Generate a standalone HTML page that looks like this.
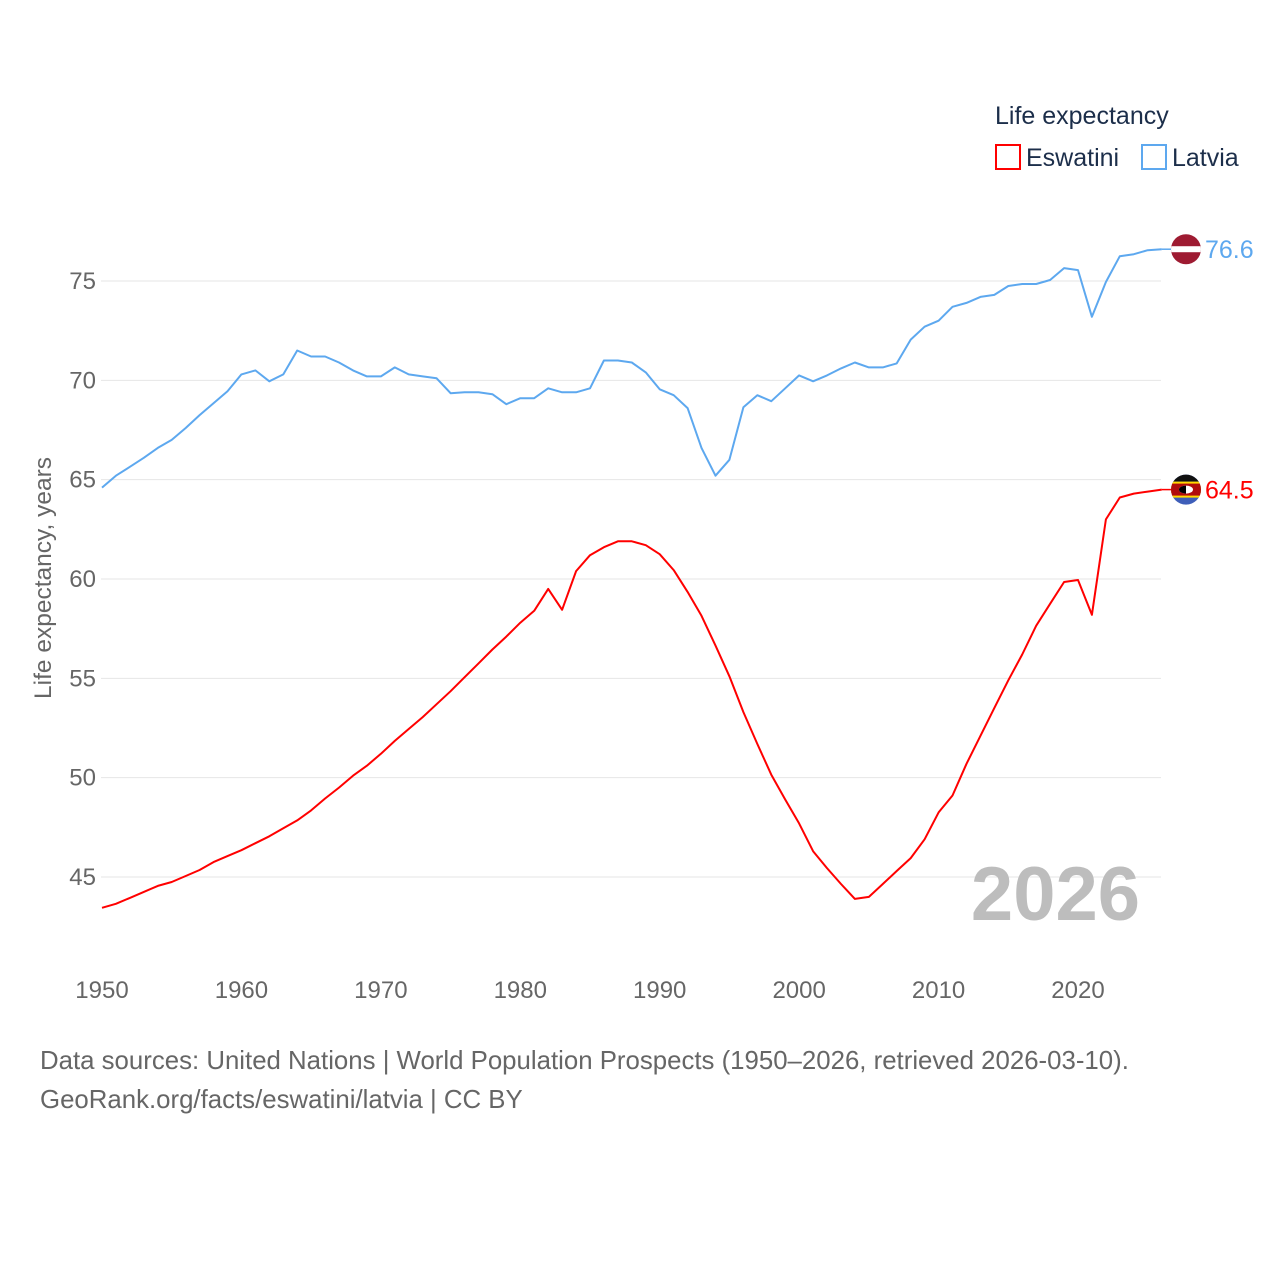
<!DOCTYPE html>
<html><head><meta charset="utf-8"><style>
html,body{margin:0;padding:0;background:#fff;}
svg{display:block;font-family:"Liberation Sans",sans-serif;}
</style></head><body>
<svg id="chart" width="1280" height="1280" viewBox="0 0 1280 1280">
<g id="grid"></g>
<g id="yticks"></g>
<g id="xticks"></g>
<text x="51" y="578" transform="rotate(-90 51 578)" text-anchor="middle" font-size="24.5" fill="#666">Life expectancy, years</text>
<text x="1140" y="920" text-anchor="end" font-size="76" font-weight="bold" fill="#bdbdbd">2026</text>
<g id="series"></g>
<g>
<text x="995" y="124" font-size="25" fill="#1c2e4a">Life expectancy</text>
<g>
<rect x="996" y="145" width="24" height="24" fill="none" stroke="#ff0000" stroke-width="2"/>
<text x="1026" y="166" font-size="25" fill="#1c2e4a">Eswatini</text></g>
<g>
<rect x="1142" y="145" width="24" height="24" fill="none" stroke="#5da8ef" stroke-width="2"/>
<text x="1172" y="166" font-size="25" fill="#1c2e4a">Latvia</text></g>
</g>
<text x="40" y="1069" font-size="25.8" fill="#666">Data sources: United Nations | World Population Prospects (1950–2026, retrieved 2026-03-10).</text>
<text x="40" y="1108" font-size="25.8" fill="#666">GeoRank.org/facts/eswatini/latvia | CC BY</text>
</svg>
<script>
const years = [];
for (let y = 1950; y <= 2026; y++) years.push(y);
const latvia = [64.6,65.2,65.65,66.1,66.6,67.0,67.6,68.25,68.85,69.45,70.3,70.5,69.95,70.3,71.5,71.2,71.2,70.9,70.5,70.2,70.2,70.65,70.3,70.2,70.1,69.35,69.4,69.4,69.3,68.8,69.1,69.1,69.6,69.4,69.4,69.6,71.0,71.0,70.9,70.4,69.55,69.25,68.6,66.6,65.2,66.0,68.65,69.25,68.95,69.6,70.25,69.95,70.25,70.6,70.9,70.65,70.65,70.85,72.05,72.7,73.0,73.7,73.9,74.2,74.3,74.75,74.85,74.85,75.05,75.65,75.55,73.2,74.95,76.25,76.35,76.55,76.6];
const eswatini = [43.45,43.65,43.95,44.25,44.55,44.75,45.05,45.35,45.75,46.05,46.35,46.7,47.05,47.45,47.85,48.35,48.95,49.5,50.1,50.6,51.2,51.85,52.45,53.05,53.7,54.35,55.05,55.75,56.45,57.1,57.8,58.4,59.5,58.45,60.4,61.2,61.6,61.9,61.9,61.7,61.25,60.45,59.35,58.15,56.65,55.1,53.3,51.7,50.15,48.9,47.7,46.3,45.45,44.65,43.9,44.0,44.65,45.3,45.95,46.9,48.25,49.1,50.7,52.1,53.5,54.9,56.2,57.65,58.75,59.85,59.95,58.2,63.0,64.1,64.3,64.4,64.5];
const yTicks = [45,50,55,60,65,70,75];
const xTicks = [1950,1960,1970,1980,1990,2000,2010,2020];

const NS = "http://www.w3.org/2000/svg";
const X = yr => 102 + (yr - 1950) * (976 / 70);
const Y = v => 281 + (75 - v) * (596 / 30);
function mk(tag, attrs, parent) {
  const e = document.createElementNS(NS, tag);
  for (const k in attrs) e.setAttribute(k, attrs[k]);
  parent.appendChild(e);
  return e;
}
const grid = document.getElementById('grid');
const yt = document.getElementById('yticks');
const xt = document.getElementById('xticks');
const ser = document.getElementById('series');
yTicks.forEach(v => {
  const l = mk('line', {x1: 101, x2: 1161, y1: Y(v), y2: Y(v), stroke: '#e6e6e6', 'stroke-width': 1}, grid);
  
  
  const t = mk('text', {x: 96, y: Y(v) + 8, 'text-anchor': 'end', 'font-size': 24, fill: '#666'}, yt);
  t.textContent = v;
  
  
});
xTicks.forEach(yr => {
  const t = mk('text', {x: X(yr), y: 998, 'text-anchor': 'middle', 'font-size': 24, fill: '#666'}, xt);
  t.textContent = yr;
  
  
});
function line(vals, color, name) {
  const d = vals.map((v, i) => (i ? 'L' : 'M') + X(years[i]).toFixed(1) + ' ' + Y(v).toFixed(1)).join(' ');
  const p = mk('path', {d: d, fill: 'none', stroke: color, 'stroke-width': 2, 'stroke-linejoin': 'round'}, ser);
  
  
  const last = vals[vals.length - 1];
  const lx = X(years[years.length - 1]);
  const ly = Y(last);
  mk('line', {x1: lx, x2: 1172, y1: ly, y2: ly, stroke: color, 'stroke-width': 1.5}, ser);
  return {last: last, ly: ly};
}
const lv = line(latvia, '#5da8ef', 'latvia');
const es = line(eswatini, '#ff0000', 'eswatini');

const fl = mk('g', {}, ser);


const cl = mk('clipPath', {id: 'clipL'}, fl);
mk('circle', {cx: 1186, cy: lv.ly, r: 15}, cl);
const gL = mk('g', {'clip-path': 'url(#clipL)'}, fl);
mk('rect', {x: 1170, y: lv.ly - 16, width: 32, height: 32, fill: '#9e1b32'}, gL);
mk('rect', {x: 1170, y: lv.ly - 3, width: 32, height: 6, fill: '#fff'}, gL);
const tl = mk('text', {x: 1205, y: lv.ly + 9, 'font-size': 25, fill: '#5da8ef'}, ser);
tl.textContent = lv.last.toFixed(1);



const fe = mk('g', {}, ser);


const ce = mk('clipPath', {id: 'clipE'}, fe);
mk('circle', {cx: 1186, cy: es.ly, r: 15}, ce);
const gE = mk('g', {'clip-path': 'url(#clipE)'}, fe);
mk('rect', {x: 1170, y: es.ly - 16, width: 32, height: 32, fill: '#3e5eb9'}, gE);
mk('rect', {x: 1170, y: es.ly - 16, width: 32, height: 8, fill: '#111'}, gE);
mk('rect', {x: 1170, y: es.ly - 8, width: 32, height: 16, fill: '#ffd900'}, gE);
mk('rect', {x: 1170, y: es.ly - 6, width: 32, height: 12, fill: '#b10c0c'}, gE);
mk('ellipse', {cx: 1186, cy: es.ly, rx: 7, ry: 4, fill: '#fff'}, gE);
mk('path', {d: 'M1179 ' + es.ly + ' A7 4 0 0 1 1186 ' + (es.ly - 4) + ' L1186 ' + (es.ly + 4) + ' A7 4 0 0 1 1179 ' + es.ly, fill: '#000'}, gE);
const te = mk('text', {x: 1205, y: es.ly + 9, 'font-size': 25, fill: '#ff0000'}, ser);
te.textContent = es.last.toFixed(1);


</script>
</body></html>
